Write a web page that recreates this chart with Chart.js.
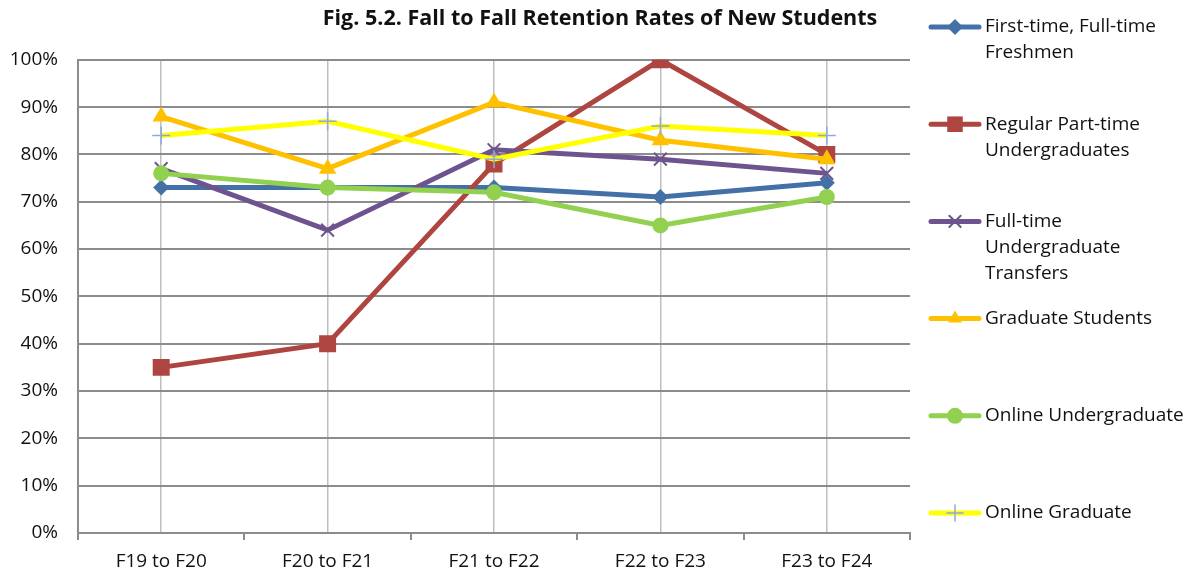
<!DOCTYPE html>
<html>
<head>
<meta charset="utf-8">
<script src="https://cdn.jsdelivr.net/npm/chart.js@4.4.1/dist/chart.umd.min.js"></script>
<style>
  html, body { margin: 0; padding: 0; background: #fff; }
  #wrap { width: 1200px; height: 576px; position: relative; }
</style>
</head>
<body>
<div id="wrap"><canvas id="c" width="1200" height="576"></canvas></div>
<script>
const categories = ["F19 to F20", "F20 to F21", "F21 to F22", "F22 to F23", "F23 to F24"];
const yTicks = [0, 10, 20, 30, 40, 50, 60, 70, 80, 90, 100];

const freshmen      = [73, 73, 73, 71, 74];
const partTime      = [35, 40, 78, 100, 80];
const transfers     = [77, 64, 81, 79, 76];
const graduate      = [88, 77, 91, 83, 79];
const onlineUG      = [76, 73, 72, 65, 71];
const onlineGrad    = [84, 87, 79, 86, 84];

const legendLines = [
  ["First-time, Full-time", "Freshmen"],
  ["Regular Part-time", "Undergraduates"],
  ["Full-time", "Undergraduate", "Transfers"],
  ["Graduate Students"],
  ["Online Undergraduate"],
  ["Online Graduate"]
];

const FONT = "'Open Sans', 'Noto Sans', sans-serif";

const datasets = [
  { label: "First-time, Full-time Freshmen", data: freshmen, borderColor: "#4470A8", backgroundColor: "#4470A8",
    pointStyle: "rectRot", pointRadius: 8, pointBorderWidth: 0, order: 6 },
  { label: "Regular Part-time Undergraduates", data: partTime, borderColor: "#AE4541", backgroundColor: "#AE4541",
    pointStyle: "rect", pointRadius: 12, pointBorderWidth: 0, order: 5 },
  { label: "Full-time Undergraduate Transfers", data: transfers, borderColor: "#6E548F", backgroundColor: "#6E548F",
    pointStyle: "crossRot", pointRadius: 9, pointBorderWidth: 2, order: 4 },
  { label: "Graduate Students", data: graduate, borderColor: "#FFC000", backgroundColor: "#FFC000",
    pointStyle: "triangle", pointRadius: 10, pointBorderWidth: 0, order: 3 },
  { label: "Online Undergraduate", data: onlineUG, borderColor: "#92D050", backgroundColor: "#92D050",
    pointStyle: "circle", pointRadius: 8, pointBorderWidth: 0, order: 2 },
  { label: "Online Graduate", data: onlineGrad, borderColor: "#FFFF00", backgroundColor: "#8EA9DB",
    pointStyle: "cross", pointRadius: 9, pointBorderWidth: 1.5, pointBorderColor: "#8EA9DB", order: 1 }
];
datasets.forEach(d => {
  d.borderWidth = 5;
  d.tension = 0;
  d.fill = false;
  d.xAxisID = "x";
  if (!d.pointBorderColor) d.pointBorderColor = d.backgroundColor;
  d.pointBackgroundColor = d.backgroundColor;
  d.pointHoverRadius = d.pointRadius;
});

const legendBox = {
  id: "sideLegend",
  beforeInit(chart) {
    const box = {
      position: "right",
      weight: 0,
      fullSize: false,
      options: {},
      width: 0, height: 0, left: 0, top: 0, right: 0, bottom: 0,
      isHorizontal() { return false; },
      update(maxWidth, maxHeight) { this.width = 290; this.height = maxHeight; return this; },
      draw() {
        const ctx = chart.ctx;
        const x0 = this.left + 21, x1 = this.left + 69, xm = this.left + 45, tx = this.left + 75;
        const firstY = 27, slot = 97.2, lh = 26;
        ctx.save();
        chart.data.datasets.forEach((ds, i) => {
          const y = firstY + i * slot;
          ctx.strokeStyle = ds.borderColor;
          ctx.lineWidth = 5;
          ctx.lineCap = "round";
          ctx.beginPath(); ctx.moveTo(x0, y); ctx.lineTo(x1, y); ctx.stroke();
          const r = Math.min(ds.pointRadius, 8);
          ctx.fillStyle = ds.pointBackgroundColor;
          ctx.strokeStyle = ds.pointBorderColor;
          ctx.lineWidth = ds.pointBorderWidth || 0;
          Chart.helpers.drawPoint(ctx, { pointStyle: ds.pointStyle, radius: ds.pointStyle === "rect" ? 11 : r, rotation: 0, borderWidth: ds.pointBorderWidth }, xm, y);
          ctx.fillStyle = "#111";
          ctx.font = "19px " + FONT;
          ctx.textBaseline = "middle";
          ctx.textAlign = "left";
          legendLines[i].forEach((t, k) => ctx.fillText(t, tx, y + k * lh));
        });
        ctx.restore();
      }
    };
    Chart.layouts.addBox(chart, box);
  }
};

new Chart(document.getElementById("c"), {
  type: "line",
  data: { labels: categories, datasets },
  plugins: [legendBox],
  options: {
    responsive: false,
    animation: false,
    devicePixelRatio: 1,
    layout: { padding: { left: 0, right: 0, top: 0, bottom: 0 } },
    plugins: {
      legend: { display: false },
      tooltip: { enabled: false },
      title: {
        display: true,
        text: "Fig. 5.2. Fall to Fall Retention Rates of New Students",
        color: "#111",
        font: { family: FONT, size: 21.5, weight: "bold" },
        padding: { top: 6, bottom: 28 }
      }
    },
    scales: {
      x: {
        type: "category",
        offset: true,
        weight: 0,
        afterFit(scale) { scale.height = 43; },
        grid: { display: true, offset: true, drawOnChartArea: false, drawTicks: true, tickLength: 7, color: "#8C8C8C", lineWidth: 2 },
        border: { display: true, color: "#8C8C8C", width: 2 },
        ticks: { color: "#111", font: { family: FONT, size: 19 }, padding: 10 }
      },
      x2: {
        type: "category",
        labels: categories,
        offset: true,
        position: "bottom",
        weight: 1,
        afterFit(scale) { scale.height = 0; },
        grid: { display: true, offset: false, drawOnChartArea: true, drawTicks: false, color: "#BFBFBF", lineWidth: 1.5 },
        border: { display: false },
        ticks: { display: false }
      },
      y: {
        min: 0, max: 100,
        afterFit(scale) { scale.width = 78; },
        afterBuildTicks(scale) { scale.ticks = yTicks.map(v => ({ value: v })); },
        grid: { color: "#8C8C8C", lineWidth: 2, drawTicks: false },
        border: { display: true, color: "#8C8C8C", width: 2 },
        ticks: { color: "#111", font: { family: FONT, size: 19 }, padding: 20, callback: v => v + "%" }
      }
    }
  }
});
</script>
</body>
</html>
